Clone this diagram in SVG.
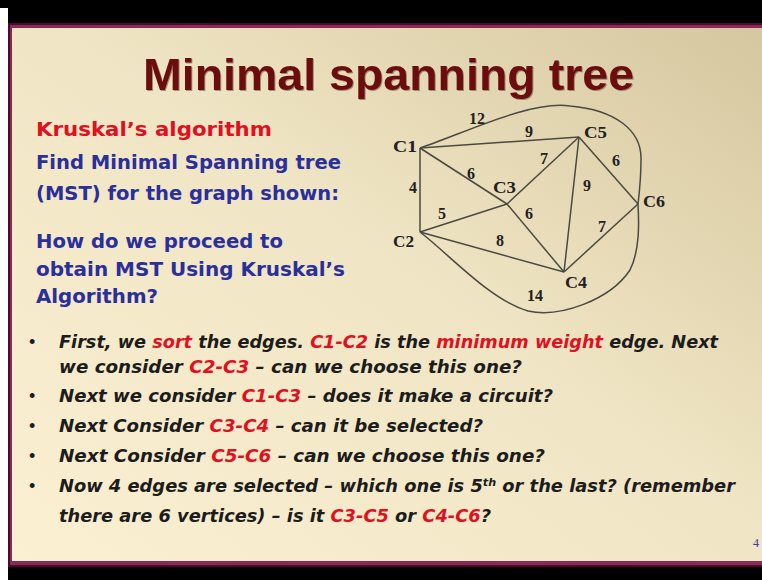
<svg xmlns="http://www.w3.org/2000/svg" width="762" height="580" viewBox="0 0 762 580">
<defs>
<linearGradient id="bg" x1="0" y1="1" x2="1" y2="0">
<stop offset="0" stop-color="#fbf0d2"/>
<stop offset="0.55" stop-color="#efe4c3"/>
<stop offset="1" stop-color="#d5c79f"/>
</linearGradient>
<filter id="sh" x="-5%" y="-5%" width="110%" height="120%">
<feDropShadow dx="1" dy="1" stdDeviation="0.6" flood-color="#000" flood-opacity="0.35"/>
</filter>
</defs>
<style>
.title{font-family:"Liberation Sans",Arial,sans-serif;font-weight:bold;font-size:45px;fill:#6c0a10}
.head{font-family:"DejaVu Sans",Verdana,sans-serif;font-weight:bold;font-size:19px;fill:#e0101e}
.blue{font-family:"DejaVu Sans",Verdana,sans-serif;font-weight:bold;font-size:19px;fill:#2a2f9c}
.bul{font-family:"DejaVu Sans",Verdana,sans-serif;font-weight:bold;font-style:italic;font-size:17.5px;fill:#1c1c1c}
.dot{font-family:"Liberation Sans",Arial,sans-serif;font-size:18px;fill:#1c1c1c}
.r{fill:#e0101e}
.edge{stroke:#4a4a42;stroke-width:1.5;fill:none}
.nl{font-family:"Liberation Serif","Times New Roman",serif;font-weight:bold;font-size:17px;fill:#222}
.wl{font-family:"Liberation Serif","Times New Roman",serif;font-weight:bold;font-size:16px;fill:#222;text-anchor:middle}
.pg{font-family:"Liberation Serif","Times New Roman",serif;font-size:12px;fill:#3a3aa8}
</style>
<rect x="0" y="0" width="762" height="580" fill="#000"/>
<rect x="0" y="8" width="8" height="572" fill="#fff"/>
<rect x="8" y="23" width="754" height="544" fill="#4c0a2a"/>
<rect x="10" y="25" width="752" height="540" fill="#8a2a58"/>
<rect x="12" y="28" width="750" height="533" fill="url(#bg)"/>

<text class="title" x="143" y="90" textLength="491" lengthAdjust="spacingAndGlyphs" filter="url(#sh)">Minimal spanning tree</text>

<text class="head" x="36" y="136" textLength="236" lengthAdjust="spacingAndGlyphs">Kruskal’s algorithm</text>
<text class="blue" x="36" y="169" textLength="305" lengthAdjust="spacingAndGlyphs">Find Minimal Spanning tree</text>
<text class="blue" x="36" y="200" textLength="303" lengthAdjust="spacingAndGlyphs">(MST) for the graph shown:</text>
<text class="blue" x="36" y="248" textLength="247" lengthAdjust="spacingAndGlyphs">How do we proceed to</text>
<text class="blue" x="36" y="276" textLength="309" lengthAdjust="spacingAndGlyphs">obtain MST Using Kruskal’s</text>
<text class="blue" x="36" y="303" textLength="122" lengthAdjust="spacingAndGlyphs">Algorithm?</text>

<g id="connectors">
<line class="edge" x1="420" y1="148" x2="420" y2="232"/>
<line class="edge" x1="420" y1="148" x2="507" y2="204"/>
<line class="edge" x1="420" y1="148" x2="579" y2="137"/>
<line class="edge" x1="420" y1="232" x2="507" y2="204"/>
<line class="edge" x1="420" y1="232" x2="564" y2="272"/>
<line class="edge" x1="507" y1="204" x2="564" y2="272"/>
<line class="edge" x1="507" y1="204" x2="579" y2="137"/>
<line class="edge" x1="579" y1="137" x2="564" y2="272"/>
<line class="edge" x1="579" y1="137" x2="638" y2="204"/>
<line class="edge" x1="638" y1="204" x2="564" y2="272"/>
<path class="edge" d="M420,148 C460,135 530,100 570,106 C615,110 642,130 641,160 C641,180 639,195 638,204"/>
<path class="edge" d="M420,232 C450,255 490,300 528,311 C560,318 610,300 630,270 C640,250 639,222 638,204"/>
</g>

<g id="w12"><text class="wl" x="477" y="124">12</text></g>
<g id="w9a"><text class="wl" x="529" y="137">9</text></g>
<g id="w7a"><text class="wl" x="544" y="164">7</text></g>
<g id="w6a"><text class="wl" x="616" y="166">6</text></g>
<g id="w6b"><text class="wl" x="471" y="179">6</text></g>
<g id="w9b"><text class="wl" x="587" y="191">9</text></g>
<g id="w4"><text class="wl" x="413" y="193">4</text></g>
<g id="w5"><text class="wl" x="442" y="219">5</text></g>
<g id="w6c"><text class="wl" x="529" y="219">6</text></g>
<g id="w7b"><text class="wl" x="602" y="232">7</text></g>
<g id="w8"><text class="wl" x="500" y="246">8</text></g>
<g id="w14"><text class="wl" x="535" y="301">14</text></g>

<g id="C1"><text class="nl" x="393" y="152" textLength="24" lengthAdjust="spacingAndGlyphs">C1</text></g>
<g id="C2"><text class="nl" x="393" y="247" textLength="21" lengthAdjust="spacingAndGlyphs">C2</text></g>
<g id="C3"><text class="nl" x="493" y="193" textLength="23" lengthAdjust="spacingAndGlyphs">C3</text></g>
<g id="C4"><text class="nl" x="565" y="288" textLength="22" lengthAdjust="spacingAndGlyphs">C4</text></g>
<g id="C5"><text class="nl" x="584" y="138" textLength="23" lengthAdjust="spacingAndGlyphs">C5</text></g>
<g id="C6"><text class="nl" x="643" y="207" textLength="22" lengthAdjust="spacingAndGlyphs">C6</text></g>

<text class="dot" x="29" y="348">•</text>
<text class="bul" x="59" y="348" textLength="659" lengthAdjust="spacingAndGlyphs">First, we <tspan class="r">sort</tspan> the edges. <tspan class="r">C1-C2</tspan> is the <tspan class="r">minimum weight</tspan> edge. Next</text>
<text class="bul" x="59" y="373" textLength="463" lengthAdjust="spacingAndGlyphs">we consider <tspan class="r">C2-C3</tspan> – can we choose this one?</text>
<text class="dot" x="29" y="402">•</text>
<text class="bul" x="59" y="402" textLength="494" lengthAdjust="spacingAndGlyphs">Next we consider <tspan class="r">C1-C3</tspan> – does it make a circuit?</text>
<text class="dot" x="29" y="432">•</text>
<text class="bul" x="59" y="432" textLength="424" lengthAdjust="spacingAndGlyphs">Next Consider <tspan class="r">C3-C4</tspan> – can it be selected?</text>
<text class="dot" x="29" y="462">•</text>
<text class="bul" x="59" y="462" textLength="486" lengthAdjust="spacingAndGlyphs">Next Consider <tspan class="r">C5-C6</tspan> – can we choose this one?</text>
<text class="dot" x="29" y="492">•</text>
<text class="bul" x="59" y="492" textLength="676" lengthAdjust="spacingAndGlyphs">Now 4 edges are selected – which one is 5<tspan font-size="11" dy="-6">th</tspan><tspan dy="6"> or the last? (remember</tspan></text>
<text class="bul" x="59" y="522" textLength="432" lengthAdjust="spacingAndGlyphs">there are 6 vertices) – is it <tspan class="r">C3-C5</tspan> or <tspan class="r">C4-C6</tspan>?</text>

<text class="pg" x="753" y="547">4</text>
</svg>
